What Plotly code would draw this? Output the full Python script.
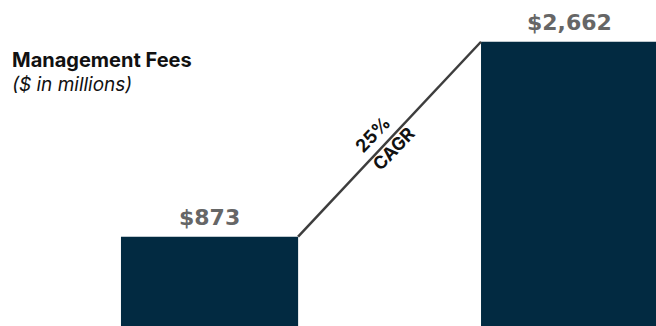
import plotly.graph_objects as go

categories = ["Year 1", "Year 2"]
fees = [873, 2662]
labels = ["$873", "$2,662"]
cagr_pct = "25%"
cagr_word = "CAGR"

BAR_COLOR = "#022a41"
BAR_W = 0.492

fig = go.Figure()
fig.add_trace(go.Bar(
    x=[0, 1], y=fees, width=BAR_W,
    marker=dict(color=BAR_COLOR, line=dict(width=0)),
    hoverinfo="skip",
))

for xi, v, lab in zip([0, 1], fees, labels):
    fig.add_annotation(x=xi, y=v, xref="x", yref="y", text="<b>" + lab + "</b>",
                       showarrow=False, yanchor="bottom", yshift=5,
                       font=dict(family="DejaVu Sans", size=22, color="#666666"))

# connector line from top-right of first bar to top-left of second bar
fig.add_shape(type="line", xref="x", yref="y",
              x0=0 + BAR_W / 2, y0=fees[0], x1=1 - BAR_W / 2, y1=fees[1],
              line=dict(color="#3d3d3d", width=2.5))

xm = 0.5
ym = (fees[0] + fees[1]) / 2
fig.add_annotation(x=xm, y=ym, xref="x", yref="y", text="<b>" + cagr_pct + "</b>",
                   showarrow=False, textangle=-46.5, xshift=-17, yshift=5,
                   font=dict(family="Inter", size=18, color="#111111"))
fig.add_annotation(x=xm, y=ym, xref="x", yref="y", text="<b>" + cagr_word + "</b>",
                   showarrow=False, textangle=-46.5, xshift=4, yshift=-9,
                   font=dict(family="Inter", size=18, color="#111111"))

fig.add_annotation(x=10 / 656, y=1 - 60 / 326, xref="paper", yref="paper",
                   text="<b>Management Fees</b>", showarrow=False,
                   xanchor="left", yanchor="middle",
                   font=dict(family="Inter", size=20, color="#111111"))
fig.add_annotation(x=10 / 656, y=1 - 84 / 326, xref="paper", yref="paper",
                   text="<i>($ in millions)</i>", showarrow=False,
                   xanchor="left", yanchor="middle",
                   font=dict(family="Inter", size=19, color="#111111"))

fig.update_layout(
    width=656, height=326,
    margin=dict(l=0, r=0, t=0, b=0),
    paper_bgcolor="white", plot_bgcolor="white",
    showlegend=False,
    xaxis=dict(range=[-0.582, 1.240], visible=False, fixedrange=True),
    yaxis=dict(range=[54, 3045], visible=False, fixedrange=True),
)

fig.write_html("out.html", config={"displayModeBar": False})
